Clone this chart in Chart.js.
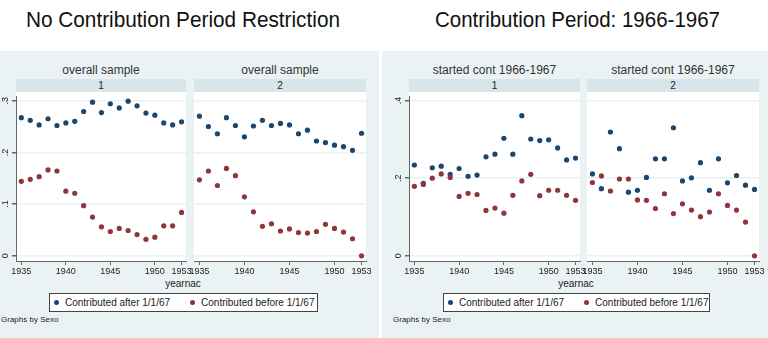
<!DOCTYPE html>
<html>
<head>
<meta charset="utf-8">
<script src="https://cdn.jsdelivr.net/npm/chart.js@4.4.1/dist/chart.umd.min.js"></script>
<style>
  body { margin: 0; width: 768px; height: 338px; background: #fff; position: relative; overflow: hidden;
         font-family: "Liberation Sans", Arial, sans-serif; color: #222; }
  .abs { position: absolute; }
  .bg { background: #eaf2f3; top: 51px; height: 287px; }
  .plot { background: #fff; top: 92px; height: 169px; }
  .strip { background: #d8e5ea; top: 79px; height: 13px; font-size: 10px; line-height: 13px; text-align: center; }
  .sub { top: 63px; font-size: 12px; line-height: 14px; text-align: center; color: #333; }
  .title { top: 9px; font-size: 22px; line-height: 22px; color: #111; white-space: nowrap; transform-origin: 0 0; }
  .xlab { top: 278px; font-size: 10px; line-height: 12px; text-align: center; }
  .legend { top: 293px; height: 17px; background: #fff; border: 1px solid #444; display: flex; align-items: center;
            font-size: 10px; white-space: nowrap; }
  .dot { width: 5px; height: 5px; border-radius: 50%; display: inline-block; margin: 0 6px 0 6px; }
  .note { top: 315px; font-size: 8px; line-height: 10px; }
  canvas { position: absolute; }
</style>
</head>
<body>
<!-- graph backgrounds -->
<div class="abs bg" style="left:0;width:379px"></div>
<div class="abs bg" style="left:382px;width:386px"></div>

<div class="abs title" id="t1" style="left:26px">No Contribution Period Restriction</div>
<div class="abs title" id="t2" style="left:435px">Contribution Period: 1966-1967</div>

<div class="abs sub" style="left:16px;width:170px">overall sample</div>
<div class="abs sub" style="left:194px;width:172px">overall sample</div>
<div class="abs sub" style="left:409px;width:171px">started cont 1966-1967</div>
<div class="abs sub" style="left:587px;width:172px">started cont 1966-1967</div>

<div class="abs strip" style="left:16px;width:170px">1</div>
<div class="abs strip" style="left:194px;width:172px">2</div>
<div class="abs strip" style="left:409px;width:171px">1</div>
<div class="abs strip" style="left:587px;width:172px">2</div>

<div class="abs plot" style="left:16px;width:170px"></div>
<div class="abs plot" style="left:194px;width:172px"></div>
<div class="abs plot" style="left:409px;width:171px"></div>
<div class="abs plot" style="left:587px;width:172px"></div>

<canvas id="c1" width="198" height="186" style="left:0;top:92px"></canvas>
<canvas id="c2" width="196" height="186" style="left:184px;top:92px"></canvas>
<canvas id="c3" width="202" height="186" style="left:390px;top:92px"></canvas>
<canvas id="c4" width="191" height="186" style="left:577px;top:92px"></canvas>

<div class="abs xlab" style="left:133px;width:100px">yearnac</div>
<div class="abs xlab" style="left:526px;width:100px">yearnac</div>

<div class="abs legend" id="leg1" style="left:49px;width:267px"></div>
<div class="abs legend" id="leg2" style="left:443px;width:265px"></div>

<div class="abs note" style="left:1px">Graphs by Sexo</div>
<div class="abs note" style="left:393px">Graphs by Sexo</div>

<script>
// years on the x axis
const years = [1935, 1936, 1937, 1938, 1939, 1940, 1941, 1942, 1943, 1944,
               1945, 1946, 1947, 1948, 1949, 1950, 1951, 1952, 1953];
const xTicks = [1935, 1940, 1945, 1950, 1953];
const yTicksAll = [0, 0.1, 0.2, 0.3];
const yTicksCont = [0, 0.2, 0.4];
const seriesNames = ['Contributed after 1/1/67', 'Contributed before 1/1/67'];

// No contribution period restriction, Sexo = 1
const allAfter1  = [.267, .262, .253, .265, .252, .257, .260, .279, .297, .277,
                    .294, .286, .299, .290, .276, .272, .257, .253, .259];
const allBefore1 = [.144, .148, .153, .166, .164, .125, .121, .097, .075, .056,
                    .047, .053, .049, .041, .032, .036, .058, .058, .084];
// Sexo = 2
const allAfter2  = [.270, .250, .236, .267, .252, .230, .251, .262, .252, .256,
                    .253, .236, .243, .222, .219, .214, .211, .204, .237];
const allBefore2 = [.147, .164, .136, .169, .155, .114, .085, .057, .062, .048,
                    .052, .045, .044, .047, .061, .053, .046, .033, .000];

// Contribution period 1966-1967, Sexo = 1
const contAfter1  = [.234, .187, .227, .231, .210, .225, .205, .208, .255, .262,
                     .303, .262, .361, .301, .297, .299, .278, .247, .252];
const contBefore1 = [.179, .184, .200, .211, .202, .153, .161, .158, .117, .123,
                     .110, .156, .193, .210, .155, .169, .169, .156, .143];
// Sexo = 2
const contAfter2  = [.211, .173, .319, .276, .164, .169, .202, .250, .250, .330,
                     .193, .201, .240, .169, .250, .188, .207, .182, .171];
const contBefore2 = [.189, .206, .167, .198, .198, .144, .143, .122, .160, .109,
                     .134, .118, .101, .113, .160, .130, .118, .087, .000];

const blue = '#1a476f';
const red = '#90353b';
const FONT = '"Liberation Sans", Arial, sans-serif';

// Stata-style tick format: .3 instead of 0.3
function fmt(v) {
  return v === 0 ? '0' : v.toFixed(1).replace(/^0/, '');
}

// draws the rotated y tick labels
const yLabelPlugin = {
  id: 'yLabels',
  afterDraw(chart, args, opts) {
    if (!opts.show) return;
    const y = chart.scales.y;
    const ctx = chart.ctx;
    ctx.save();
    ctx.font = '9px ' + FONT;
    ctx.fillStyle = '#222';
    ctx.textAlign = 'center';
    ctx.textBaseline = 'middle';
    y.ticks.forEach(t => {
      ctx.save();
      ctx.translate(chart.chartArea.left - 10.5, y.getPixelForValue(t.value));
      ctx.rotate(-Math.PI / 2);
      ctx.fillText(fmt(t.value), 0, 0);
      ctx.restore();
    });
    ctx.restore();
  }
};

function pts(vals) {
  return years.map((yr, i) => ({ x: yr, y: vals[i] }));
}

function makeChart(id, after, before, yTicks, yMin, yMax, showY, padL, padR, axisW) {
  return new Chart(document.getElementById(id), {
    type: 'scatter',
    data: {
      datasets: [
        { label: seriesNames[0], data: pts(after), backgroundColor: blue, borderWidth: 0, pointRadius: 2.6, order: 2 },
        { label: seriesNames[1], data: pts(before), backgroundColor: red, borderWidth: 0, pointRadius: 2.6, order: 1 }
      ]
    },
    options: {
      responsive: false,
      animation: false,
      events: [],
      layout: { padding: { left: padL, right: padR, top: 0, bottom: 0 } },
      scales: {
        x: {
          type: 'linear', min: 1934.4, max: 1953.5,
          afterBuildTicks: s => { s.ticks = xTicks.map(v => ({ value: v })); },
          afterFit: s => { s.height = 17; s.paddingLeft = 0; s.paddingRight = 0; },
          ticks: { font: { size: 9, family: FONT }, color: '#222', padding: 1,
                   maxRotation: 0, minRotation: 0, autoSkip: false, callback: v => String(v) },
          grid: { drawOnChartArea: false, tickLength: 4, tickColor: '#666' },
          border: { color: '#666', width: 1 }
        },
        y: {
          type: 'linear', min: yMin, max: yMax,
          afterBuildTicks: s => { s.ticks = yTicks.map(v => ({ value: v })); },
          afterFit: s => { s.width = showY ? axisW : 0; s.paddingTop = 0; s.paddingBottom = 0; },
          ticks: { display: false },
          grid: { color: '#eaf2f3', lineWidth: 1.5, drawTicks: showY, tickLength: 4, tickColor: '#666' },
          border: { display: showY, color: '#666', width: 1 }
        }
      },
      plugins: {
        legend: { display: false },
        tooltip: { enabled: false },
        yLabels: { show: showY }
      }
    },
    plugins: [yLabelPlugin]
  });
}

makeChart('c1', allAfter1, allBefore1, yTicksAll, -0.01, 0.309, true, 0, 12, 16);
makeChart('c2', allAfter2, allBefore2, yTicksAll, -0.01, 0.309, false, 10, 14, 0);
makeChart('c3', contAfter1, contBefore1, yTicksCont, -0.0133, 0.4118, true, 0, 12, 19);
makeChart('c4', contAfter2, contBefore2, yTicksCont, -0.0133, 0.4118, false, 10, 9, 0);

// legends
['leg1', 'leg2'].forEach(id => {
  const el = document.getElementById(id);
  el.innerHTML =
    '<span class="dot" style="background:' + blue + ';margin-left:4px"></span><span>' + seriesNames[0] + '</span>' +
    '<span class="dot" style="background:' + red + ';margin-left:20px"></span><span>' + seriesNames[1] + '</span>';
});

// squeeze titles to the width they take in the original
function fitText(id, target) {
  const el = document.getElementById(id);
  const w = el.getBoundingClientRect().width;
  el.style.transform = 'scaleX(' + (target / w) + ')';
}
fitText('t1', 314);
fitText('t2', 285);
</script>
</body>
</html>
